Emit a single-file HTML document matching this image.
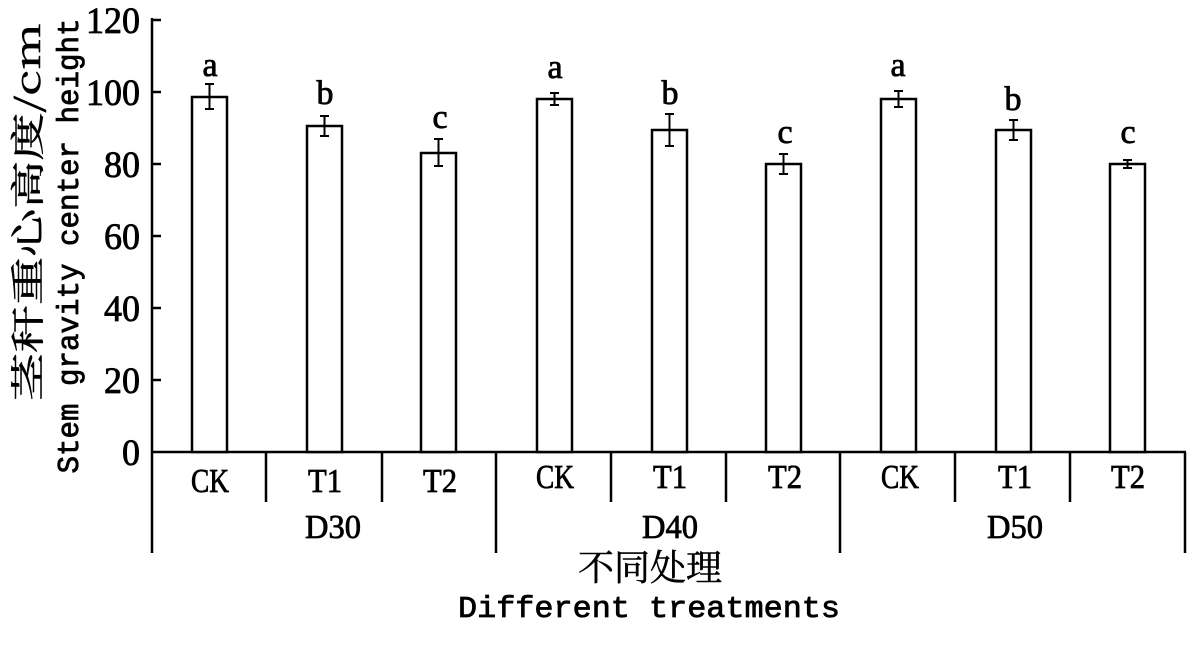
<!DOCTYPE html>
<html><head><meta charset="utf-8"><style>body{margin:0;background:#fff}</style></head><body>
<svg width="1199" height="645" viewBox="0 0 1199 645" xmlns="http://www.w3.org/2000/svg" font-family="'Liberation Serif','Noto Serif CJK SC',serif">
<g stroke="#000" stroke-width="2.5" fill="none">
<line x1="152" y1="18" x2="152" y2="553"/>
<line x1="151" y1="452" x2="1186" y2="452"/>
<line x1="152" y1="20" x2="161" y2="20"/>
<line x1="152" y1="92" x2="161" y2="92"/>
<line x1="152" y1="164" x2="161" y2="164"/>
<line x1="152" y1="236" x2="161" y2="236"/>
<line x1="152" y1="308" x2="161" y2="308"/>
<line x1="152" y1="380" x2="161" y2="380"/>
<line x1="266" y1="452" x2="266" y2="502"/>
<line x1="382" y1="452" x2="382" y2="502"/>
<line x1="496" y1="452" x2="496" y2="553"/>
<line x1="611" y1="452" x2="611" y2="502"/>
<line x1="726" y1="452" x2="726" y2="502"/>
<line x1="840" y1="452" x2="840" y2="553"/>
<line x1="955" y1="452" x2="955" y2="502"/>
<line x1="1070" y1="452" x2="1070" y2="502"/>
<line x1="1185" y1="452" x2="1185" y2="553"/>
</g>
<g stroke="#000" stroke-width="2.5" fill="#fff">
<rect x="192" y="97" width="35" height="355"/>
<rect x="307" y="126" width="35" height="326"/>
<rect x="421" y="153" width="35" height="299"/>
<rect x="537" y="99" width="35" height="353"/>
<rect x="652" y="130" width="35" height="322"/>
<rect x="766" y="164" width="35" height="288"/>
<rect x="881" y="99" width="35" height="353"/>
<rect x="996" y="130" width="35" height="322"/>
<rect x="1110" y="164" width="35" height="288"/>
</g>
<g stroke="#000" stroke-width="2" fill="none">
<path d="M209.5 84V109M205 84h9M205 109h9"/>
<path d="M324.5 116V136M320 116h9M320 136h9"/>
<path d="M438.5 139V166M434 139h9M434 166h9"/>
<path d="M554.5 93V105M550 93h9M550 105h9"/>
<path d="M669.5 114V146M665 114h9M665 146h9"/>
<path d="M783.5 154V174M779 154h9M779 174h9"/>
<path d="M898.5 91V107M894 91h9M894 107h9"/>
<path d="M1013.5 120V140M1009 120h9M1009 140h9"/>
<path d="M1127.5 160V168M1123 160h9M1123 168h9"/>
</g>
<g fill="#000" stroke="#000" stroke-width="0.8">
<g font-size="37" text-anchor="end">
<text x="140" y="33" textLength="54" lengthAdjust="spacingAndGlyphs">120</text><text x="140" y="105" textLength="54" lengthAdjust="spacingAndGlyphs">100</text><text x="140" y="177" textLength="36" lengthAdjust="spacingAndGlyphs">80</text>
<text x="140" y="249" textLength="36" lengthAdjust="spacingAndGlyphs">60</text><text x="140" y="321" textLength="36" lengthAdjust="spacingAndGlyphs">40</text><text x="140" y="393" textLength="36" lengthAdjust="spacingAndGlyphs">20</text><text x="140" y="465" textLength="18" lengthAdjust="spacingAndGlyphs">0</text>
</g>
<g font-size="34" text-anchor="middle">
<text x="210" y="76">a</text><text x="325" y="104">b</text><text x="440" y="128">c</text>
<text x="555" y="78">a</text><text x="670" y="104">b</text><text x="785" y="143">c</text>
<text x="898" y="76">a</text><text x="1013" y="110">b</text><text x="1128" y="143">c</text>
<text x="210" y="492" textLength="38" lengthAdjust="spacingAndGlyphs">CK</text><text x="325" y="492" textLength="34" lengthAdjust="spacingAndGlyphs">T1</text><text x="440" y="492" textLength="34" lengthAdjust="spacingAndGlyphs">T2</text>
<text x="555" y="488" textLength="38" lengthAdjust="spacingAndGlyphs">CK</text><text x="670" y="488" textLength="34" lengthAdjust="spacingAndGlyphs">T1</text><text x="785" y="488" textLength="34" lengthAdjust="spacingAndGlyphs">T2</text>
<text x="900" y="488" textLength="38" lengthAdjust="spacingAndGlyphs">CK</text><text x="1015" y="488" textLength="34" lengthAdjust="spacingAndGlyphs">T1</text><text x="1128" y="488" textLength="34" lengthAdjust="spacingAndGlyphs">T2</text>
<text x="333" y="538" textLength="56" lengthAdjust="spacingAndGlyphs">D30</text><text x="670" y="538" textLength="56" lengthAdjust="spacingAndGlyphs">D40</text><text x="1015" y="538" textLength="56" lengthAdjust="spacingAndGlyphs">D50</text>
<text x="650" y="580" font-family="'Noto Serif CJK SC',serif" font-size="36" stroke-width="0.5">不同处理</text>
<text x="649" y="617" font-family="'Liberation Mono',monospace" font-size="31" textLength="382" lengthAdjust="spacingAndGlyphs">Different treatments</text>
<text transform="translate(40,212) rotate(-90)" font-family="'Noto Serif CJK SC',serif" stroke-width="0.5" textLength="378" lengthAdjust="spacingAndGlyphs">茎秆重心高度/cm</text>
<text transform="translate(78,246) rotate(-90)" font-family="'Liberation Mono',monospace" font-size="31" textLength="455" lengthAdjust="spacingAndGlyphs">Stem gravity center height</text>
</g>
</g>
</svg>
</body></html>
